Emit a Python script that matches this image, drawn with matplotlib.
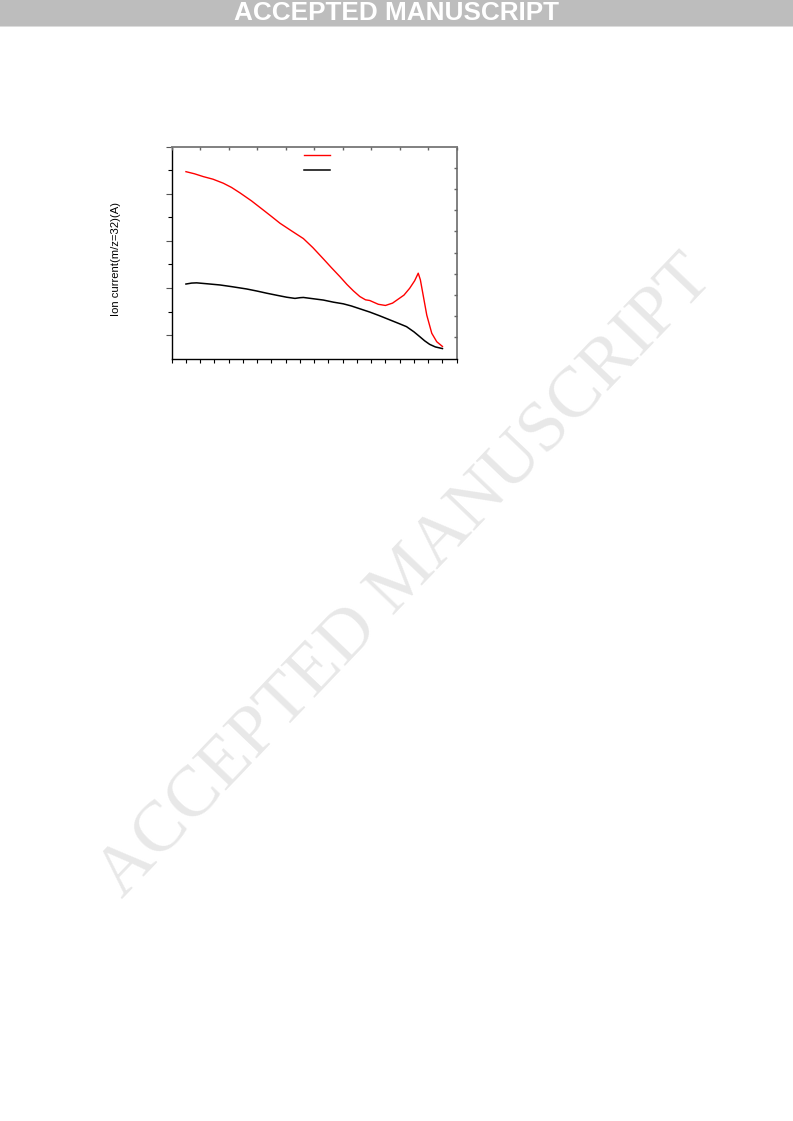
import matplotlib
matplotlib.use("Agg")
import matplotlib.pyplot as plt
from matplotlib.patches import Rectangle
from matplotlib.lines import Line2D

plt.rcParams['font.family'] = ['Liberation Sans', 'DejaVu Sans']

# ---- data (arbitrary axis units, no tick labels shown) ----
red_x = [1.0, 1.6, 2.22, 2.9, 3.62, 4.2, 4.79, 5.6, 6.43, 7.0, 7.6, 8.4, 9.24,
         9.9, 10.64, 11.2, 11.81, 12.3, 12.75, 13.2, 13.6, 13.9, 14.5, 15.0,
         15.5, 15.97, 16.3, 16.7, 17.05, 17.3, 17.45, 17.6, 17.9, 18.25, 18.6, 19.0]
red_y = [7.94, 7.85, 7.73, 7.62, 7.45, 7.27, 7.04, 6.70, 6.31, 6.04, 5.75, 5.43, 5.10,
         4.72, 4.24, 3.87, 3.48, 3.15, 2.88, 2.64, 2.50, 2.47, 2.31, 2.26,
         2.36, 2.56, 2.70, 2.99, 3.31, 3.63, 3.35, 2.85, 1.85, 1.08, 0.72, 0.52]

black_x = [1.0, 1.4, 1.75, 2.5, 3.39, 4.2, 5.26, 6.0, 6.67, 7.4, 8.07, 8.65, 9.0,
           9.24, 10.0, 10.64, 11.35, 12.04, 12.6, 13.2, 13.9, 14.6, 15.3, 16.0,
           16.48, 17.0, 17.4, 17.75, 18.1, 18.5, 19.0]
black_y = [3.17, 3.21, 3.22, 3.18, 3.13, 3.06, 2.96, 2.87, 2.78, 2.69, 2.61, 2.56, 2.59,
           2.60, 2.54, 2.49, 2.40, 2.33, 2.24, 2.12, 1.98, 1.82, 1.65, 1.48,
           1.36, 1.14, 0.94, 0.76, 0.61, 0.50, 0.43]

series_labels = [" ", " "]
y_label = "Ion current(m/z=32)(A)"
header_text = "ACCEPTED MANUSCRIPT"
watermark_text = "ACCEPTED MANUSCRIPT"

W, H = 793, 1121
fig = plt.figure(figsize=(W / 100, H / 100), dpi=100)

# header bar
fig.patches.append(Rectangle((0, 1 - 26 / H), 1, 26 / H, transform=fig.transFigure,
                             facecolor='#bdbdbd', edgecolor='none', zorder=0))
fig.patches.append(Rectangle((0, 1 - 27 / H), 1, 1.2 / H, transform=fig.transFigure,
                             facecolor='#dcdcdc', edgecolor='none', zorder=0))
fig.text(396 / W, 1 - 13 / H, header_text, color='white', fontsize=18.8,
         fontweight='bold', ha='center', va='center', family='Liberation Sans')

# watermark
fig.text(406 / W, 1 - 578 / H, watermark_text, color='#e8e8e8', fontsize=52,
         family='Liberation Serif', rotation=46.3, ha='center', va='center',
         rotation_mode='anchor', zorder=0)

ax_l, ax_r, ax_t, ax_b = 171.7, 456.7, 146.7, 358.7
ax = fig.add_axes([ax_l / W, 1 - ax_b / H, (ax_r - ax_l) / W, (ax_b - ax_t) / H])
ax.patch.set_alpha(0)

ax.plot(red_x, red_y, color='#ff0000', lw=1.0, label=series_labels[0])
ax.plot(black_x, black_y, color='black', lw=1.1, label=series_labels[1])

ax.set_xlim(0, 20)
ax.set_ylim(0, 9)

ax.set_xticks(range(0, 21))
ax.set_yticks([1, 3, 5, 7, 9])
ax.set_yticks([2, 4, 6, 8], minor=True)
ax.tick_params(axis='x', direction='out', length=3, width=0.8, labelbottom=False, top=False)
ax.tick_params(axis='y', which='major', direction='out', length=4.5, width=0.8,
               color='#555555', labelleft=False, right=False)
ax.tick_params(axis='y', which='minor', direction='out', length=3, width=0.8,
               labelleft=False, right=False)

for s in ['left', 'bottom']:
    ax.spines[s].set_color('black')
    ax.spines[s].set_linewidth(1.0)
for s in ['top', 'right']:
    ax.spines[s].set_color('#808080')
    ax.spines[s].set_linewidth(1.4)

# secondary top / right ticks (gray, inward)
axt = ax.twiny()
axt.set_xlim(0, 10)
axt.set_xticks(range(0, 11))
axt.tick_params(axis='x', direction='in', length=2.5, width=1.0, color='#666666',
                labeltop=False)
axr = ax.twinx()
axr.set_ylim(0, 10)
axr.set_yticks(range(1, 10))
axr.tick_params(axis='y', direction='in', length=2.5, width=1.0, color='#666666',
                labelright=False)
for a in (axt, axr):
    for s in a.spines.values():
        s.set_visible(False)

fig.text(116 / W, 1 - 259 / H, y_label, rotation=90, fontsize=8.1,
         ha='center', va='center')

handles = [Line2D([], [], color='#ff0000', lw=1.0), Line2D([], [], color='black', lw=1.1)]
ax.legend(handles, series_labels, loc='upper left', frameon=False,
          bbox_to_anchor=((304 - ax_l) / (ax_r - ax_l), 1 - (151 - ax_t) / (ax_b - ax_t)),
          fontsize=7.5, handlelength=2.5, handletextpad=0.3, labelspacing=0.45,
          borderpad=0, borderaxespad=0)

fig.savefig("out.png", dpi=100)
